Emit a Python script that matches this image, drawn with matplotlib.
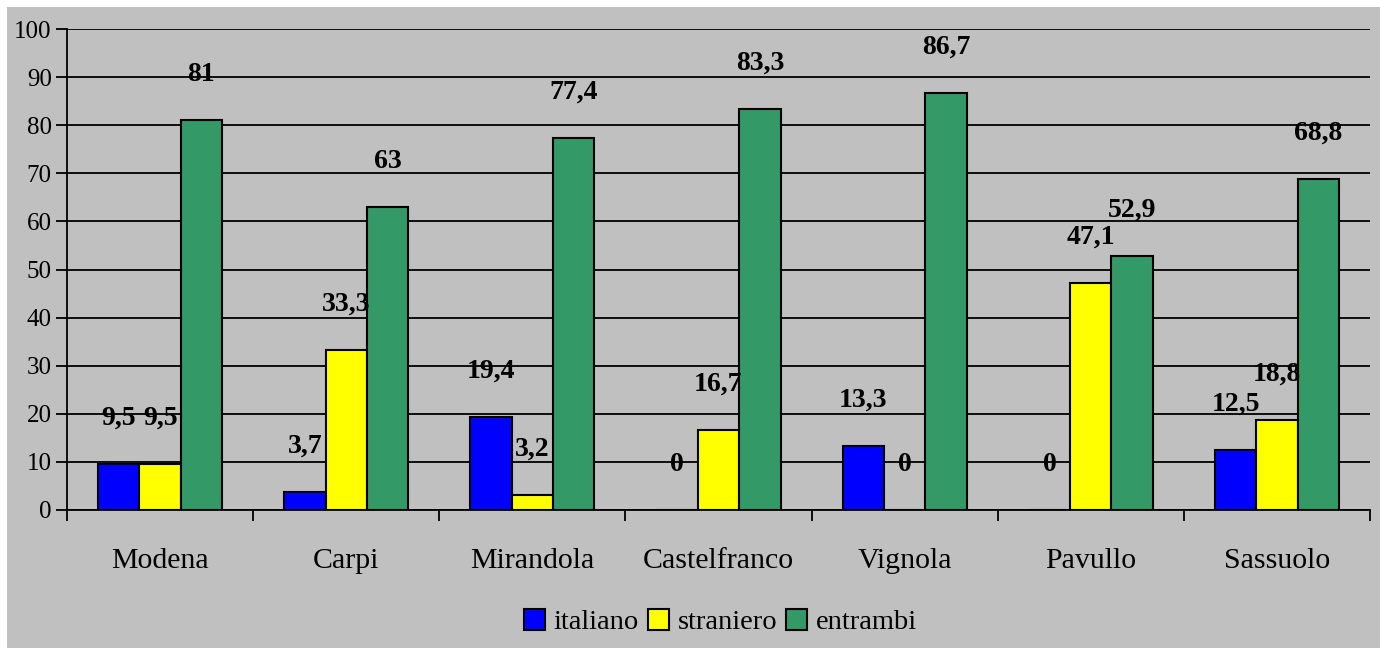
import matplotlib.pyplot as plt
import numpy as np
from matplotlib.patches import Rectangle

plt.rcParams['font.family'] = ['Liberation Serif', 'DejaVu Serif']

cities = ['Modena', 'Carpi', 'Mirandola', 'Castelfranco', 'Vignola', 'Pavullo', 'Sassuolo']
italiano = [9.5, 3.7, 19.4, 0, 13.3, 0, 12.5]
straniero = [9.5, 33.3, 3.2, 16.7, 0, 47.1, 18.8]
entrambi = [81, 63, 77.4, 83.3, 86.7, 52.9, 68.8]

series = [('italiano', italiano, '#0000ff'),
          ('straniero', straniero, '#ffff00'),
          ('entrambi', entrambi, '#339966')]

bg = '#c0c0c0'

fig = plt.figure(figsize=(13.8, 6.48), dpi=100, facecolor='white')
fig.patches.append(Rectangle((7 / 1380, 0), 1, 1 - 7 / 648, transform=fig.transFigure,
                             facecolor=bg, edgecolor='none', zorder=-10))

ax = fig.add_axes([67 / 1380, 1 - 510 / 648, 1303 / 1380, 481 / 648])
ax.set_facecolor(bg)

x = np.arange(len(cities))
w = 1 / 4.5
for i, (name, vals, col) in enumerate(series):
    pos = x + (i - 1) * w
    ax.bar(pos, vals, width=w, color=col, edgecolor='black', linewidth=1.5,
           label=name, zorder=3)
    for px, v in zip(pos, vals):
        txt = ('%g' % v).replace('.', ',')
        ax.annotate(txt, (px, v), xytext=(0, 33), textcoords='offset points',
                    ha='center', va='center', fontsize=20, fontweight='bold', zorder=4)

ax.set_xlim(-0.5, len(cities) - 0.5)
ax.set_ylim(0, 100)
ax.set_yticks(np.arange(0, 101, 10))
ax.yaxis.grid(True, color='black', linewidth=1.3, zorder=0)
ax.set_axisbelow(True)

ax.set_xticks(np.arange(-0.5, len(cities)), minor=False)
ax.set_xticklabels([])
ax.set_xticks(x, minor=True)
ax.set_xticklabels(cities, minor=True, fontsize=21.5)
ax.tick_params(axis='x', which='minor', length=0, pad=27)
ax.tick_params(axis='x', which='major', length=8, width=1.3, direction='out')
ax.tick_params(axis='y', length=8, width=1.3, labelsize=18, pad=3)

for s in ['top', 'right']:
    ax.spines[s].set_visible(False)
for s in ['left', 'bottom']:
    ax.spines[s].set_linewidth(1.3)

fig.legend(loc='center', bbox_to_anchor=(0.522, 1 - 622 / 648), ncol=3, frameon=False,
           fontsize=20.5, handlelength=0.75, handleheight=0.75, handletextpad=0.3,
           columnspacing=0.3)

fig.savefig('out.png', dpi=100, facecolor='white')
